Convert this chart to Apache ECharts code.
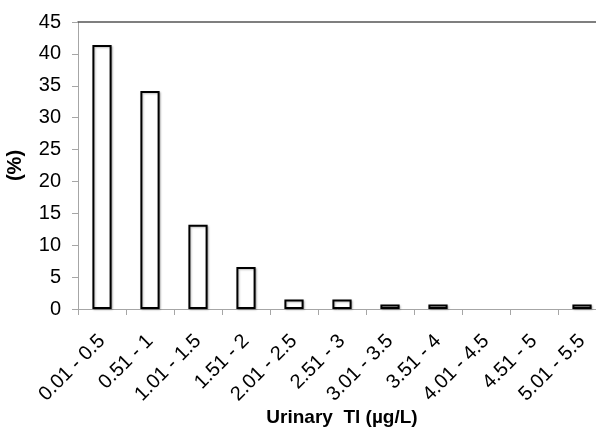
<!DOCTYPE html>
<html>
<head>
<meta charset="utf-8">
<script src="https://cdn.jsdelivr.net/npm/echarts@6/dist/echarts.min.js"></script>
<style>
html,body{margin:0;padding:0;background:#fff;}
#chart{width:596px;height:429px;}
</style>
</head>
<body>
<div id="chart"></div>
<script>
var categories = ['0.01 - 0.5','0.51 - 1','1.01 - 1.5','1.51 - 2','2.01 - 2.5','2.51 - 3','3.01 - 3.5','3.51 - 4','4.01 - 4.5','4.51 - 5','5.01 - 5.5'];
var percentValues = [41.4, 34.2, 13.2, 6.6, 1.5, 1.5, 0.7, 0.7, 0, 0, 0.7];
var yTicks = [0, 5, 10, 15, 20, 25, 30, 35, 40, 45];
var xAxisTitle = 'Urinary  Tl (µg/L)';
var yAxisTitle = '(%)';

var FONT = 'Liberation Sans, Arial, sans-serif';
var chart = echarts.init(document.getElementById('chart'));
// zero-height bars are not drawn in the reference
var seriesData = percentValues.map(function(v){ return v === 0 ? '-' : v; });

chart.setOption({
  animation: false,
  backgroundColor: '#fff',
  grid: { left: 78, top: 22, right: -10, bottom: 120, containLabel: false, outerBoundsMode: 'none' },
  xAxis: [{
    type: 'category',
    data: categories,
    boundaryGap: true,
    axisLine: { show: true, lineStyle: { color: '#a6a6a6', width: 1 } },
    axisTick: { show: true, inside: false, length: 6, alignWithLabel: false, lineStyle: { color: '#a6a6a6' } },
    axisLabel: { rotate: 45, interval: 0, margin: 29, fontSize: 20, color: '#000', fontFamily: FONT },
    name: xAxisTitle,
    nameLocation: 'middle',
    nameGap: 99,
    nameMoveOverlap: false,
    nameTextStyle: { fontSize: 19, fontWeight: 'bold', color: '#000', fontFamily: FONT }
  }, {
    type: 'category',
    position: 'top',
    data: categories,
    axisLine: { show: true, lineStyle: { color: '#555', width: 1.5 } },
    axisTick: { show: false },
    axisLabel: { show: false }
  }],
  yAxis: {
    type: 'value',
    min: yTicks[0],
    max: yTicks[yTicks.length - 1],
    interval: yTicks[1] - yTicks[0],
    axisLine: { show: true, lineStyle: { color: '#a6a6a6', width: 1 } },
    axisTick: { show: true, inside: false, length: 6, lineStyle: { color: '#a6a6a6' } },
    splitLine: { show: false },
    axisLabel: { margin: 17, fontSize: 20, color: '#000', fontFamily: FONT },
    name: yAxisTitle,
    nameLocation: 'middle',
    nameGap: 53,
    nameMoveOverlap: false,
    nameTextStyle: { fontSize: 20, fontWeight: 'bold', color: '#000', fontFamily: FONT }
  },
  series: [{
    type: 'bar',
    data: seriesData,
    barWidth: '40%',
    itemStyle: {
      color: '#fff',
      borderColor: '#000',
      borderWidth: 2,
      shadowColor: 'rgba(0,0,0,0.25)',
      shadowBlur: 2,
      shadowOffsetX: 1,
      shadowOffsetY: 1
    }
  }]
});
</script>
</body>
</html>
